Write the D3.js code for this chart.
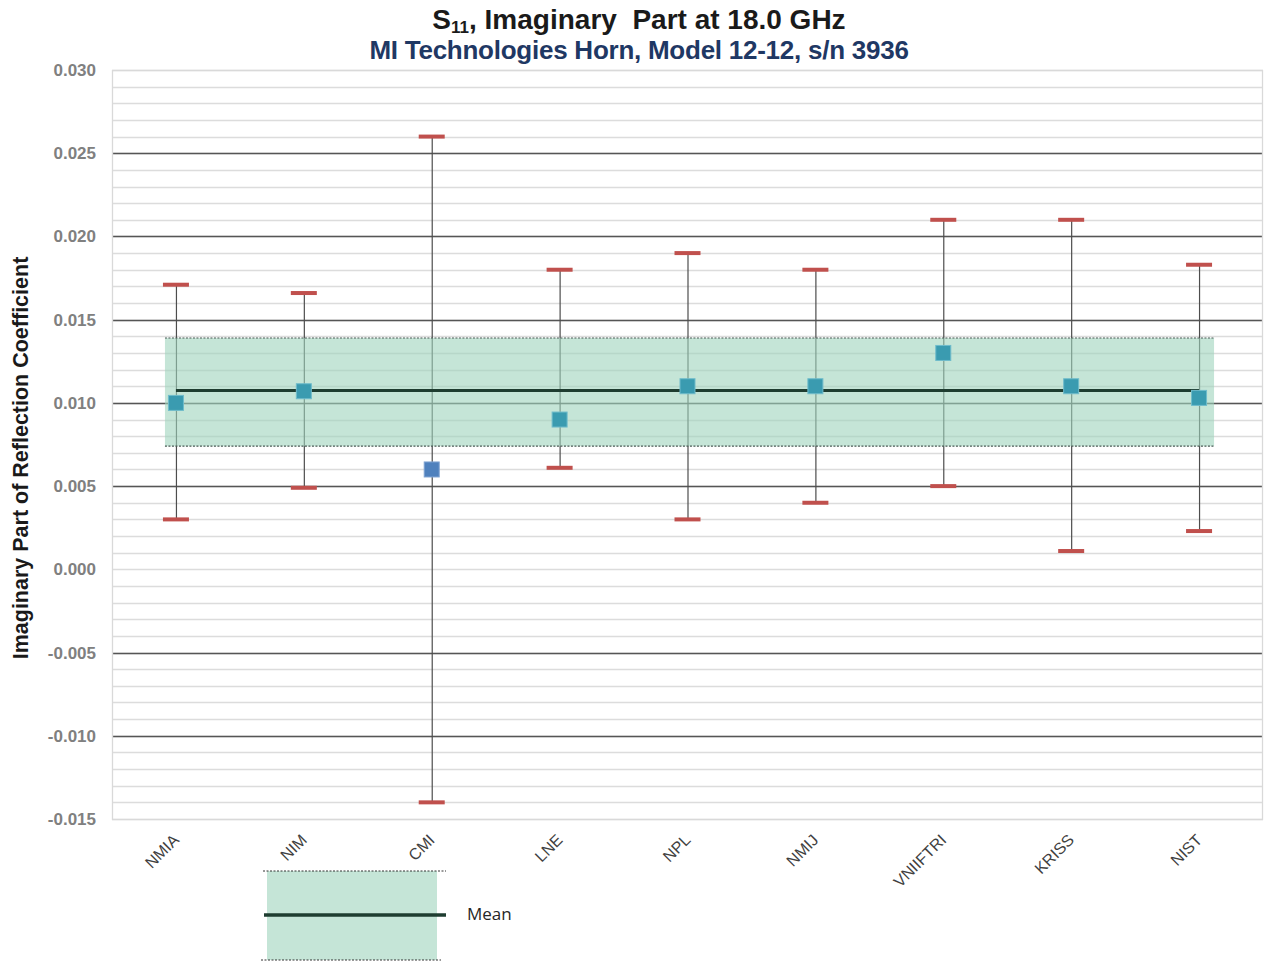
<!DOCTYPE html>
<html>
<head>
<meta charset="utf-8">
<script src="https://cdn.jsdelivr.net/npm/d3@7"></script>
<style>
  html, body { margin: 0; padding: 0; background: #fff; }
  svg { display: block; }
</style>
</head>
<body>
<svg id="chart" width="1264" height="963"></svg>
<script>
// Participating laboratories
const labs = ["NMIA", "NIM", "CMI", "LNE", "NPL", "NMIJ", "VNIIFTRI", "KRISS", "NIST"];
// Measured imaginary part of S11 at 18.0 GHz
const values = [0.0100, 0.0107, 0.0060, 0.0090, 0.0110, 0.0110, 0.0130, 0.0110, 0.0103];
// Upper and lower uncertainty limits
const upper = [0.0171, 0.0166, 0.0260, 0.0180, 0.0190, 0.0180, 0.0210, 0.0210, 0.0183];
const lower = [0.0030, 0.0049, -0.0140, 0.0061, 0.0030, 0.0040, 0.0050, 0.0011, 0.0023];
// Reference mean and its uncertainty band
const meanValue = 0.01075;
const bandTop = 0.0139;
const bandBottom = 0.0074;
// Axis ticks
const majorTicks = [0.030, 0.025, 0.020, 0.015, 0.010, 0.005, 0.000, -0.005, -0.010, -0.015];
const tickLabels = ["0.030", "0.025", "0.020", "0.015", "0.010", "0.005", "0.000", "-0.005", "-0.010", "-0.015"];
const darkGridValues = [0.025, 0.020, 0.015, 0.010, 0.005, -0.005, -0.010];

const svg = d3.select("#chart");
const plot = { left: 112, right: 1263, top: 70, bottom: 819 };

const x = d3.scaleBand().domain(labs).range([plot.left, plot.right]).paddingInner(0).paddingOuter(0);
const y = d3.scaleLinear().domain([-0.015, 0.030]).range([plot.bottom, plot.top]);
const cx = d => x(d) + x.bandwidth() / 2;

// Minor gridlines every 0.001
const minor = d3.range(-15, 31).map(i => i / 1000);
svg.append("g").selectAll("line").data(minor).join("line")
  .attr("x1", plot.left).attr("x2", plot.right)
  .attr("y1", d => Math.round(y(d)) + 0.5).attr("y2", d => Math.round(y(d)) + 0.5)
  .attr("stroke", "#dcdcdc").attr("stroke-width", 1.3);

// Major gridlines
svg.append("g").selectAll("line").data(darkGridValues).join("line")
  .attr("x1", plot.left).attr("x2", plot.right)
  .attr("y1", d => Math.round(y(d)) + 0.5).attr("y2", d => Math.round(y(d)) + 0.5)
  .attr("stroke", "#555").attr("stroke-width", 1.3);

// Plot frame
svg.append("rect")
  .attr("x", plot.left + 0.5).attr("y", plot.top + 0.5)
  .attr("width", plot.right - plot.left - 1).attr("height", plot.bottom - plot.top)
  .attr("fill", "none").attr("stroke", "#d9d9d9").attr("stroke-width", 1.3);

// Error bars (vertical)
const bars = svg.append("g");
bars.selectAll("line").data(labs).join("line")
  .attr("x1", d => cx(d) + 0.5).attr("x2", d => cx(d) + 0.5)
  .attr("y1", (d, i) => y(upper[i])).attr("y2", (d, i) => y(lower[i]))
  .attr("stroke", "#4d4d4d").attr("stroke-width", 1.2);

// Uncertainty band around the mean
const bandX0 = cx(labs[0]) - 11;
const bandX1 = cx(labs[labs.length - 1]) + 15;
svg.append("rect")
  .attr("x", bandX0).attr("y", y(bandTop))
  .attr("width", bandX1 - bandX0).attr("height", y(bandBottom) - y(bandTop))
  .attr("fill", "#9fd4bc").attr("opacity", 0.6);
[bandTop, bandBottom].forEach(v => {
  svg.append("line")
    .attr("x1", bandX0).attr("x2", bandX1)
    .attr("y1", y(v)).attr("y2", y(v))
    .attr("stroke", "#4a5a55").attr("stroke-width", 1.2)
    .attr("stroke-dasharray", "2,1.5");
});

// Mean line
svg.append("line")
  .attr("x1", cx(labs[0])).attr("x2", cx(labs[labs.length - 1]))
  .attr("y1", y(meanValue)).attr("y2", y(meanValue))
  .attr("stroke", "#1e3d30").attr("stroke-width", 3);

// Caps
const capW = 26;
svg.append("g").selectAll("rect").data(labs).join("rect")
  .attr("x", d => cx(d) - capW / 2).attr("y", (d, i) => y(upper[i]) - 2)
  .attr("width", capW).attr("height", 4).attr("fill", "#c0504d");
svg.append("g").selectAll("rect").data(labs).join("rect")
  .attr("x", d => cx(d) - capW / 2).attr("y", (d, i) => y(lower[i]) - 2)
  .attr("width", capW).attr("height", 4).attr("fill", "#c0504d");

// Markers
const ms = 15;
svg.append("g").selectAll("rect").data(labs).join("rect")
  .attr("x", d => cx(d) - ms / 2).attr("y", (d, i) => y(values[i]) - ms / 2)
  .attr("width", ms).attr("height", ms)
  .attr("fill", d => d === "CMI" ? "#4f81bd" : "#3a9bb0")
  .attr("stroke", d => d === "CMI" ? "#7ea3d2" : "#6fbccb").attr("stroke-width", 1);

// Y axis labels
const yAxis = d3.axisLeft(y).tickValues(majorTicks)
  .tickFormat((d, i) => tickLabels[i]).tickSize(0).tickPadding(16);
const yg = svg.append("g").attr("transform", `translate(${plot.left},0)`).call(yAxis);
yg.select(".domain").remove();
yg.selectAll("text")
  .attr("font-family", "Liberation Sans, Arial, sans-serif")
  .attr("font-size", 17).attr("font-weight", "bold").attr("fill", "#808080");

// X axis labels (rotated)
const xAxis = d3.axisBottom(x).tickSize(0).tickPadding(0);
const xg = svg.append("g").attr("transform", `translate(0,${plot.bottom})`).call(xAxis);
xg.select(".domain").remove();
xg.selectAll("text")
  .attr("font-family", "Liberation Sans, Arial, sans-serif")
  .attr("font-size", 16).attr("fill", "#404040")
  .attr("text-anchor", "end").attr("dy", 0)
  .attr("transform", "translate(4,22) rotate(-45)");

// Y axis title
svg.append("text")
  .attr("transform", "translate(28,458) rotate(-90)")
  .attr("text-anchor", "middle")
  .attr("font-family", "Liberation Sans, Arial, sans-serif")
  .attr("font-size", 21.5).attr("font-weight", "bold").attr("fill", "#1a1a1a")
  .text("Imaginary Part of Reflection Coefficient");

// Title
const title = svg.append("text")
  .attr("x", 639).attr("y", 29).attr("text-anchor", "middle")
  .attr("font-family", "Liberation Sans, Arial, sans-serif")
  .attr("font-size", 28).attr("font-weight", "bold").attr("fill", "#1a1a1a")
  .style("white-space", "pre");
title.append("tspan").text("S");
title.append("tspan").attr("font-size", 17).attr("dy", 4).text("11");
title.append("tspan").attr("dy", -4).text(", Imaginary  Part at 18.0 GHz");

svg.append("text")
  .attr("x", 639).attr("y", 59).attr("text-anchor", "middle")
  .attr("font-family", "Liberation Sans, Arial, sans-serif")
  .attr("font-size", 26).attr("font-weight", "bold").attr("fill", "#1f3864")
  .attr("letter-spacing", -0.25)
  .text("MI Technologies Horn, Model 12-12, s/n 3936");

// Legend
const lg = svg.append("g");
lg.append("rect").attr("x", 267).attr("y", 871).attr("width", 170).attr("height", 89)
  .attr("fill", "#9fd4bc").attr("opacity", 0.6);
lg.append("line").attr("x1", 263).attr("x2", 446).attr("y1", 871).attr("y2", 871)
  .attr("stroke", "#333").attr("stroke-width", 1).attr("stroke-dasharray", "2,1.5");
lg.append("line").attr("x1", 261).attr("x2", 441).attr("y1", 960).attr("y2", 960)
  .attr("stroke", "#333").attr("stroke-width", 1).attr("stroke-dasharray", "2,1.5");
lg.append("line").attr("x1", 264).attr("x2", 446).attr("y1", 915).attr("y2", 915)
  .attr("stroke", "#1e3d30").attr("stroke-width", 3.5);
lg.append("text").attr("x", 467).attr("y", 920)
  .attr("font-family", "Open Sans, Lato, sans-serif")
  .attr("font-size", 17).attr("fill", "#262626")
  .text("Mean");
</script>
</body>
</html>
